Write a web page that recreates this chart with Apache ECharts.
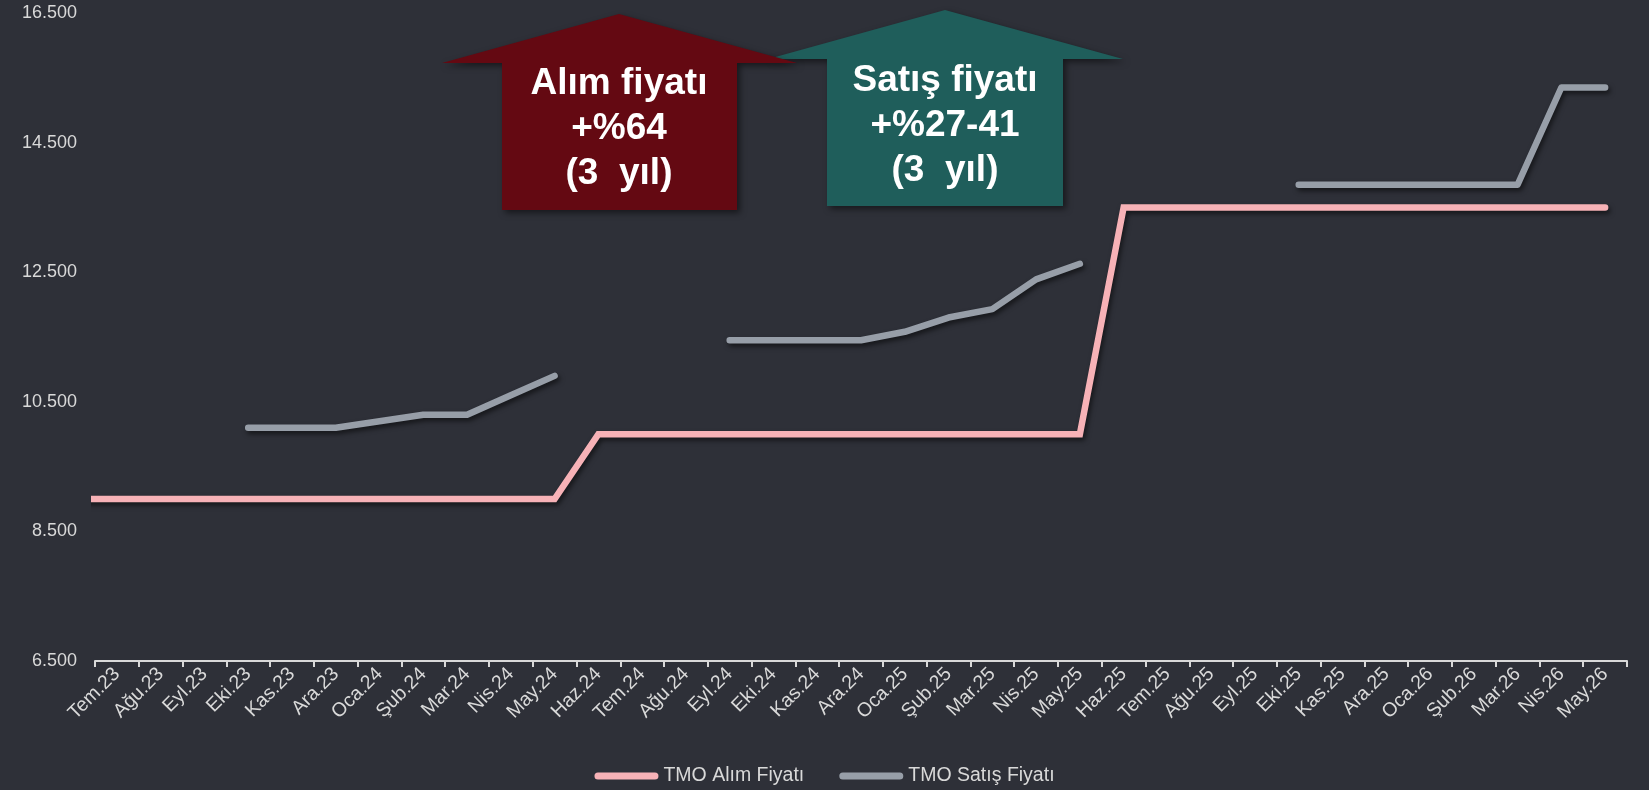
<!DOCTYPE html>
<html>
<head>
<meta charset="utf-8">
<script src="https://cdn.jsdelivr.net/npm/echarts@6/dist/echarts.min.js"></script>
<style>
  html, body { margin: 0; padding: 0; background: #2e3038; }
  #chart { width: 1649px; height: 790px; }
</style>
</head>
<body>
<div id="chart"></div>
<script>
const categories = [
  'Tem.23', 'Ağu.23', 'Eyl.23', 'Eki.23', 'Kas.23', 'Ara.23', 'Oca.24', 'Şub.24', 'Mar.24', 'Nis.24',
  'May.24', 'Haz.24', 'Tem.24', 'Ağu.24', 'Eyl.24', 'Eki.24', 'Kas.24', 'Ara.24', 'Oca.25', 'Şub.25',
  'Mar.25', 'Nis.25', 'May.25', 'Haz.25', 'Tem.25', 'Ağu.25', 'Eyl.25', 'Eki.25', 'Kas.25', 'Ara.25',
  'Oca.26', 'Şub.26', 'Mar.26', 'Nis.26', 'May.26'
]

// TMO Alım Fiyatı (the line runs in from before Tem.23 at the same level)
const alimOnceki = 9000
const alimFiyati = [
  9000, 9000, 9000, 9000, 9000, 9000, 9000, 9000, 9000, 9000,
  9000, 10000, 10000, 10000, 10000, 10000, 10000, 10000, 10000, 10000,
  10000, 10000, 10000, 13500, 13500, 13500, 13500, 13500, 13500, 13500,
  13500, 13500, 13500, 13500, 13500
]

// TMO Satış Fiyatı
const satisFiyati = [
  null, null, null, 10100, 10100, 10100, 10200, 10300, 10300, 10600,
  10900, null, null, null, 11450, 11450, 11450, 11450, 11580, 11800,
  11930, 12390, 12630, null, null, null, null, 13850, 13850, 13850,
  13850, 13850, 13850, 15350, 15350
]

const yTicks = [6500, 8500, 10500, 12500, 14500, 16500]

const FONT = '"Liberation Sans", Arial, sans-serif'
const TEXT_COLOR = '#d9d9d9'

function fmt(v) {
  return String(v).replace(/\B(?=(\d{3})+(?!\d))/g, '.')
}

const lineShadow = {
  shadowColor: 'rgba(0,0,0,0.55)',
  shadowBlur: 5,
  shadowOffsetX: 2,
  shadowOffsetY: 3
}

const chart = echarts.init(document.getElementById('chart'), null, { renderer: 'canvas' })

const alimData = [[-1, alimOnceki]].concat(alimFiyati.map((v, i) => [i, v]))
const satisData = satisFiyati.map((v, i) => [i, v == null ? '-' : v])

chart.setOption({
  backgroundColor: '#2e3038',
  animation: false,
  textStyle: { fontFamily: FONT },
  grid: { left: 95, right: 22, top: 13, bottom: 129 },
  legend: {
    top: 761,
    left: 'center',
    itemGap: 35,
    itemWidth: 64,
    itemHeight: 7,
    icon: 'path://M3.5,0 H60.5 A3.5,3.5 0 0 1 60.5,7 H3.5 A3.5,3.5 0 0 1 3.5,0 Z',
    textStyle: { color: TEXT_COLOR, fontSize: 19.5, fontFamily: FONT },
    data: ['TMO Alım Fiyatı', 'TMO Satış Fiyatı']
  },
  xAxis: [
    {
      type: 'category',
      data: categories,
      boundaryGap: true,
      axisLine: { lineStyle: { color: TEXT_COLOR, width: 2 } },
      axisTick: { show: true, length: 6, lineStyle: { color: TEXT_COLOR, width: 2 } },
      axisLabel: {
        color: TEXT_COLOR,
        fontSize: 19.5,
        fontFamily: FONT,
        rotate: 45,
        interval: 0,
        margin: 10
      },
      splitLine: { show: false }
    },
    {
      type: 'value',
      show: false,
      min: -0.5,
      max: categories.length - 0.5
    }
  ],
  yAxis: {
    type: 'value',
    min: yTicks[0],
    max: yTicks[yTicks.length - 1],
    interval: yTicks[1] - yTicks[0],
    axisLine: { show: false },
    axisTick: { show: false },
    splitLine: { show: false },
    axisLabel: {
      color: TEXT_COLOR,
      fontSize: 18,
      fontFamily: FONT,
      margin: 18,
      formatter: fmt
    }
  },
  series: [
    {
      name: 'TMO Alım Fiyatı',
      type: 'line',
      xAxisIndex: 1,
      data: alimData,
      showSymbol: false,
      symbol: 'none',
      clip: true,
      color: '#f7b2b7',
      lineStyle: Object.assign({ color: '#f7b2b7', width: 6.5, cap: 'round', join: 'miter' }, lineShadow),
      z: 3
    },
    {
      name: 'TMO Satış Fiyatı',
      type: 'line',
      xAxisIndex: 1,
      data: satisData,
      showSymbol: false,
      symbol: 'none',
      clip: true,
      color: '#979ea8',
      lineStyle: Object.assign({ color: '#979ea8', width: 6.5, cap: 'round', join: 'round' }, lineShadow),
      z: 4
    }
  ],
  graphic: [
    {
      type: 'polygon',
      z: 10,
      shape: { points: [[945, 10], [1123, 59], [1063, 59], [1063, 206], [827, 206], [827, 59], [768, 59]] },
      style: { fill: '#1f5e5b', shadowColor: 'rgba(0,0,0,0.5)', shadowBlur: 6, shadowOffsetX: 3, shadowOffsetY: 3 }
    },
    {
      type: 'polygon',
      z: 11,
      shape: { points: [[619, 14], [797, 63], [737, 63], [737, 210], [502, 210], [502, 63], [442, 63]] },
      style: { fill: '#640912', shadowColor: 'rgba(0,0,0,0.5)', shadowBlur: 6, shadowOffsetX: 3, shadowOffsetY: 3 }
    },
    {
      type: 'text',
      z: 12,
      x: 619,
      y: 129,
      style: {
        text: 'Alım fiyatı\n+%64\n(3  yıl)',
        fill: '#ffffff',
        font: 'bold 37px "Liberation Sans", Arial, sans-serif',
        lineHeight: 45,
        align: 'center',
        verticalAlign: 'middle'
      }
    },
    {
      type: 'text',
      z: 12,
      x: 945,
      y: 126,
      style: {
        text: 'Satış fiyatı\n+%27-41\n(3  yıl)',
        fill: '#ffffff',
        font: 'bold 37px "Liberation Sans", Arial, sans-serif',
        lineHeight: 45,
        align: 'center',
        verticalAlign: 'middle'
      }
    }
  ]
})
</script>
</body>
</html>
